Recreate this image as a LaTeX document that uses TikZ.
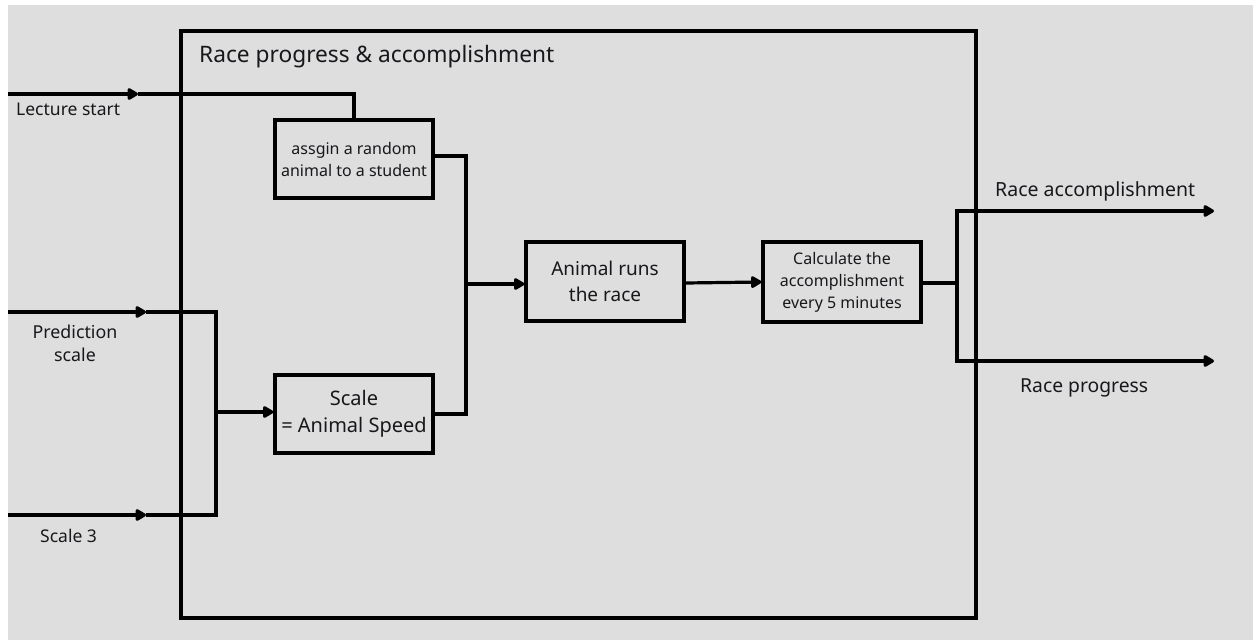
\documentclass[tikz,border=0pt]{standalone}
\usepackage{fontspec}
\setmainfont{Noto Sans}
\usetikzlibrary{arrows.meta,calc}
\definecolor{canvas}{RGB}{222,222,222}
\definecolor{ink}{RGB}{24,24,28}
\begin{document}
\begin{tikzpicture}[x=1pt,y=-1pt,
  wire/.style={line width=3.2pt, draw=black},
  arr/.style={wire,-{Triangle[length=12pt,width=13pt,round]}},
  blk/.style={draw=black, line width=3.2pt, rectangle, inner sep=0pt,
    minimum width=158pt, text=ink, align=center},
  small/.style={font=\fontsize{16}{22}\selectfont},
  lbl/.style={text=ink, inner sep=0pt, align=center}
]
\useasboundingbox (0,0) rectangle (1253,640);
\fill[canvas] (8,5) rectangle (1253,640);

% outer process box and its title
\node[draw=black, line width=3.2pt, rectangle, inner sep=0pt,
  minimum width=795pt, minimum height=587pt] (frame) at (578.5,324.5) {};
\node[lbl, anchor=base west, font=\fontsize{22.7}{27}\selectfont] (title) at (199,62) {Race progress \& accomplishment};

% inner steps
\node[blk, small, minimum height=78pt] (assign) at (354,159) {assgin a random\\animal to a student};
\node[blk, font=\fontsize{20}{27}\selectfont, minimum height=78pt] (scale) at (354,414) {Scale\\= Animal Speed};
\node[blk, font=\fontsize{19}{26}\selectfont, minimum height=79pt] (run) at (605,281.5) {Animal runs\\the race};
\node[blk, small, minimum height=80pt] (calc) at (842,282) {Calculate the\\accomplishment\\every 5 minutes};

% input labels
\node[lbl, anchor=base west, font=\fontsize{17.5}{20}\selectfont] (lecL) at (16,115.5) {Lecture start};
\node[lbl, font=\fontsize{17.8}{23}\selectfont] (predL) at (75,343.5) {Prediction\\scale};
\node[lbl, anchor=base west, font=\fontsize{17.5}{20}\selectfont] (s3L) at (40,542) {Scale 3};

% output labels
\node[lbl, anchor=base west, font=\fontsize{19.5}{22}\selectfont] (accL) at (995,196) {Race accomplishment};
\node[lbl, anchor=base west, font=\fontsize{19.3}{22}\selectfont] (progL) at (1020,392) {Race progress};

% wire end points and junctions
\coordinate (lecIn) at (8,94);
\coordinate (lecTip) at (138,94);
\coordinate (predIn) at (8,312);
\coordinate (predTip) at (146,312);
\coordinate (s3In) at (8,515);
\coordinate (s3Tip) at (146,515);
\coordinate (inJ) at (216,412);
\coordinate (midJ) at (466,284);
\coordinate (outJ) at (957,283);
\coordinate (accOut) at (1214,211);
\coordinate (progOut) at (1214,361);

% lecture start
\draw[arr] (lecIn) -- (lecTip);
\draw[wire] (lecTip) -- (lecTip -| assign.north) -- (assign.north);

% prediction scale and scale 3 merge into the speed step
\draw[arr] (predIn) -- (predTip);
\draw[arr] (s3In) -- (s3Tip);
\draw[wire, line join=miter] (predTip) -- (predTip -| inJ) -- (s3Tip -| inJ) -- (s3Tip);
\draw[arr] (inJ) -- (inJ -| scale.west);

% both steps feed the race
\draw[wire, line join=miter] (assign.east |- 0,156) -| (midJ);
\draw[wire, line join=miter] (scale.east) -| (midJ);
\draw[arr] (midJ) -- (midJ -| run.west);
\draw[arr] (run.east |- 0,283) -- (calc.west);

% outputs
\draw[wire] (calc.east |- outJ) -- (outJ);
\draw[arr, line join=miter] (outJ) |- (accOut);
\draw[arr, line join=miter] (outJ) |- (progOut);
\end{tikzpicture}
\end{document}
